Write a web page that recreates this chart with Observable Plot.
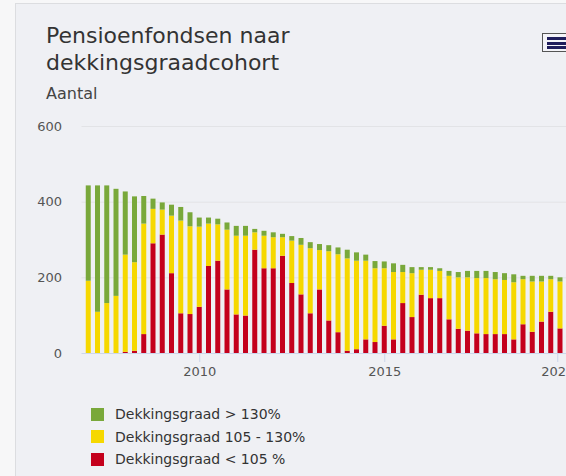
<!DOCTYPE html>
<html>
<head>
<meta charset="utf-8">
<script src="https://cdn.jsdelivr.net/npm/d3@7"></script>
<script src="https://cdn.jsdelivr.net/npm/@observablehq/plot@0.6"></script>
<style>
  html, body { margin: 0; padding: 0; width: 566px; height: 476px; overflow: hidden; background: #f7f7f8; font-family: "DejaVu Sans", Verdana, sans-serif; }
  #card { position: absolute; left: 15px; top: 3px; width: 640px; height: 520px; background: #eff0f4; border: 1px solid #dcdde0; }
  #title { position: absolute; left: 46px; top: 22px; font-size: 22px; line-height: 27px; color: #333; }
  #subtitle { position: absolute; left: 46px; top: 84px; font-size: 16px; color: #444; }
  #chart { position: absolute; left: 0; top: 110px; width: 600px; }
  #chart svg { max-width: none !important; }
  #legend { position: absolute; left: 91px; top: 403px; font-size: 14px; color: #333; }
  .li { display: flex; align-items: center; height: 22.5px; }
  .sw { width: 13px; height: 13px; margin-right: 11px; }
  #menu { position: absolute; left: 542px; top: 33px; width: 26px; height: 17px; border: 1px solid #555; background: #f4f4f8; }
  #menu div { position: absolute; left: 4px; width: 22px; height: 3px; background: #1f1d5c; }
</style>
</head>
<body>
<div id="card"></div>
<div id="title">Pensioenfondsen naar<br>dekkingsgraadcohort</div>
<div id="subtitle">Aantal</div>
<div id="menu"><div style="top:3px"></div><div style="top:7.5px"></div><div style="top:12px"></div></div>
<div id="chart"></div>
<div id="legend"></div>
<script>
// Quarterly periods (2007 K1 ... 2020 K1)
const periods = [
  "2007-K1","2007-K2","2007-K3","2007-K4",
  "2008-K1","2008-K2","2008-K3","2008-K4",
  "2009-K1","2009-K2","2009-K3","2009-K4",
  "2010-K1","2010-K2","2010-K3","2010-K4",
  "2011-K1","2011-K2","2011-K3","2011-K4",
  "2012-K1","2012-K2","2012-K3","2012-K4",
  "2013-K1","2013-K2","2013-K3","2013-K4",
  "2014-K1","2014-K2","2014-K3","2014-K4",
  "2015-K1","2015-K2","2015-K3","2015-K4",
  "2016-K1","2016-K2","2016-K3","2016-K4",
  "2017-K1","2017-K2","2017-K3","2017-K4",
  "2018-K1","2018-K2","2018-K3","2018-K4",
  "2019-K1","2019-K2","2019-K3","2019-K4",
  "2020-K1"
];
const seriesNames = ["Dekkingsgraad < 105 %", "Dekkingsgraad 105 - 130%", "Dekkingsgraad > 130%"];
const seriesColors = ["#c4001c", "#f6d800", "#79a83a"];
const legendOrder = [2, 1, 0];
const tickPeriods = ["2010-K1", "2015-K1"];
const edgeTickPeriods = ["2020-K1"];

// Counts per cohort
const below105 = [0,0,0,0,3,6,50,290,313,211,105,103,122,230,244,168,102,99,273,224,224,257,185,155,105,168,86,55,6,10,36,29,72,36,132,95,154,145,145,89,64,59,52,50,50,50,36,76,56,83,109,65];
const from105to130 = [191,109,132,151,257,234,292,91,66,152,245,232,212,112,96,158,208,211,46,86,82,49,112,131,172,104,183,206,244,234,208,195,152,178,82,116,66,75,72,115,136,141,146,148,145,143,151,119,133,106,86,124];
const above130 = [252,334,311,283,167,174,73,27,19,29,36,37,24,16,15,19,26,26,9,13,13,9,12,18,16,16,16,18,23,22,16,19,18,23,19,16,7,7,7,13,14,17,19,19,19,18,21,9,15,15,9,11];

const valuesBySeries = [below105, from105to130, above130];
const tidy = [];
below105.forEach((_, i) => {
  valuesBySeries.forEach((arr, s) => {
    tidy.push({period: periods[i], series: seriesNames[s], value: arr[i]});
  });
});

const axisStyle = {tickFormat: d => d.slice(0, 4), tickSize: 9, tickPadding: 4, stroke: "#ccd6eb", fill: "#555", label: null};

const chart = Plot.plot({
  width: 580,
  height: 270,
  marginTop: 16,
  marginBottom: 27,
  marginLeft: 81.5,
  marginRight: 4,
  style: {background: "transparent", fontFamily: "DejaVu Sans, Verdana, sans-serif", fontSize: "13px", color: "#555", maxWidth: "none"},
  x: {type: "band", domain: periods, padding: 0.46, round: false, label: null},
  y: {domain: [0, 600], label: null},
  color: {domain: seriesNames, range: seriesColors},
  marks: [
    Plot.gridY([200, 400, 600], {stroke: "#e2e3e6", strokeOpacity: 1}),
    Plot.axisY({ticks: [0, 200, 400, 600], tickSize: 0, tickPadding: 20, label: null, fill: "#555"}),
    Plot.barY(tidy, {x: "period", y: "value", fill: "series", order: seriesNames}),
    Plot.ruleY([0], {stroke: "#ccd6eb"}),
    Plot.axisX({...axisStyle, ticks: tickPeriods}),
    Plot.axisX({...axisStyle, ticks: edgeTickPeriods, dx: -12})
  ]
});
document.getElementById("chart").appendChild(chart);

const legend = document.getElementById("legend");
legendOrder.forEach(s => {
  const row = document.createElement("div");
  row.className = "li";
  const sw = document.createElement("div");
  sw.className = "sw";
  sw.style.background = seriesColors[s];
  const tx = document.createElement("span");
  tx.textContent = seriesNames[s];
  row.appendChild(sw);
  row.appendChild(tx);
  legend.appendChild(row);
});
</script>
</body>
</html>
